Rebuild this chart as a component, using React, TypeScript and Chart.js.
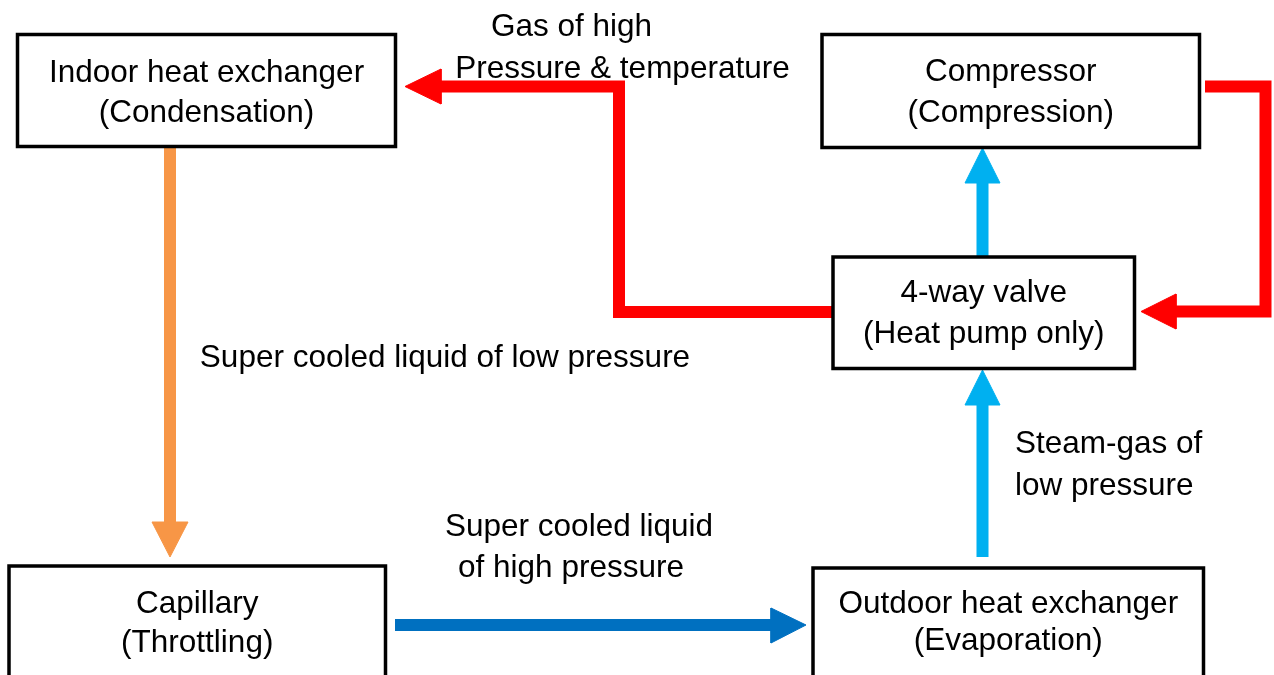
import React, { useEffect, useRef } from "react";
import { Chart, registerables } from "chart.js";

Chart.register(...registerables);

// Diagram coordinate space (pixels of the reference)
const X_RANGE = [0, 1274];
const Y_RANGE = [0, 675];

// Boxes
const boxX0 = [17.5, 822, 833, 9, 813];
const boxX1 = [395.5, 1199.5, 1134.5, 385.5, 1203.5];
const boxY0 = [34.5, 34.5, 257, 566, 568];
const boxY1 = [146.5, 147.5, 368.5, 720, 720];
const boxLine1 = ["Indoor heat exchanger", "Compressor", "4-way valve", "Capillary", "Outdoor heat exchanger"];
const boxLine2 = ["(Condensation)", "(Compression)", "(Heat pump only)", "(Throttling)", "(Evaporation)"];
const boxBase1 = [82, 81, 302, 613, 613];
const boxBase2 = [122, 122, 343, 652, 650];

// Arrow shafts (polylines)
const shaftRedTopX = [832, 619, 619, 441];
const shaftRedTopY = [312, 312, 86.5, 86.5];
const shaftRedRightX = [1205, 1265.5, 1265.5, 1176];
const shaftRedRightY = [86.5, 86.5, 311.5, 311.5];
const shaftCyanUpperX = [982.5, 982.5];
const shaftCyanUpperY = [256, 183];
const shaftCyanLowerX = [982.5, 982.5];
const shaftCyanLowerY = [557, 405];
const shaftOrangeX = [170, 170];
const shaftOrangeY = [148, 522];
const shaftBlueX = [395, 771];
const shaftBlueY = [625, 625];

// Arrow heads (triangles)
const headRedTopX = [441, 441, 405];
const headRedTopY = [69, 104, 86.5];
const headRedRightX = [1176, 1176, 1141];
const headRedRightY = [294, 329, 311.5];
const headCyanUpperX = [965, 1000, 982.5];
const headCyanUpperY = [183, 183, 148];
const headCyanLowerX = [965, 1000, 982.5];
const headCyanLowerY = [405, 405, 370];
const headOrangeX = [152, 188, 170];
const headOrangeY = [522, 522, 557];
const headBlueX = [771, 771, 806];
const headBlueY = [608, 643, 625];

// Free labels
const labelText = [
  "Gas of high",
  "Pressure & temperature",
  "Super cooled liquid of low pressure",
  "Super cooled liquid",
  "of high pressure",
  "Steam-gas of",
  "low pressure",
];
const labelX = [571.5, 622.5, 445, 579, 571, 1015, 1015];
const labelY = [36, 78, 367, 536, 577, 453, 495];
const labelAlign = ["center", "center", "center", "center", "center", "left", "left"];

const RED = "#FF0000";
const ORANGE = "#F79646";
const CYAN = "#00B0F0";
const BLUE = "#0070C0";
const FONT = '31.5px "Liberation Sans", Arial, sans-serif';

function pts(xs: number[], ys: number[]) {
  return xs.map((x, i) => ({ x, y: ys[i] }));
}

function rectPts(i: number) {
  const x0 = boxX0[i], x1 = boxX1[i], y0 = boxY0[i], y1 = boxY1[i];
  const mx = (x0 + x1) / 2;
  return pts([mx, x1, x1, x0, x0, mx], [y0, y0, y1, y1, y0, y0]);
}

function triPts(xs: number[], ys: number[]) {
  return pts([...xs, xs[0]], [...ys, ys[0]]);
}

export default function App() {
  const ref = useRef<HTMLCanvasElement | null>(null);

  useEffect(() => {
    document.body.style.margin = "0";
    const canvas = ref.current;
    if (!canvas) return;

    const shaft = (data: any[], color: string) => ({
      data,
      borderColor: color,
      borderWidth: 12,
      borderJoinStyle: "miter",
      borderCapStyle: "butt",
      pointRadius: 0,
      fill: false,
      tension: 0,
    });
    const head = (data: any[], color: string) => ({
      data,
      borderColor: color,
      backgroundColor: color,
      borderWidth: 1,
      borderJoinStyle: "miter",
      pointRadius: 0,
      fill: "shape",
      tension: 0,
    });
    const box = (i: number) => ({
      data: rectPts(i),
      borderColor: "#000000",
      borderWidth: 3.5,
      borderJoinStyle: "miter",
      borderCapStyle: "butt",
      pointRadius: 0,
      fill: false,
      tension: 0,
    });

    const labelPlugin = {
      id: "diagramLabels",
      afterDatasetsDraw(chart: any) {
        const { ctx, scales } = chart;
        const sx = scales.x, sy = scales.y;
        ctx.save();
        ctx.fillStyle = "#000000";
        ctx.font = FONT;
        ctx.textBaseline = "alphabetic";
        ctx.textAlign = "center";
        for (let i = 0; i < boxLine1.length; i++) {
          const cx = sx.getPixelForValue((boxX0[i] + boxX1[i]) / 2);
          ctx.fillText(boxLine1[i], cx, sy.getPixelForValue(boxBase1[i]));
          ctx.fillText(boxLine2[i], cx, sy.getPixelForValue(boxBase2[i]));
        }
        for (let i = 0; i < labelText.length; i++) {
          ctx.textAlign = labelAlign[i];
          ctx.fillText(labelText[i], sx.getPixelForValue(labelX[i]), sy.getPixelForValue(labelY[i]));
        }
        ctx.restore();
      },
    };

    const chart = new Chart(canvas, {
      type: "line",
      data: {
        datasets: [
          box(0), box(1), box(2), box(3), box(4),
          shaft(pts(shaftRedTopX, shaftRedTopY), RED),
          shaft(pts(shaftRedRightX, shaftRedRightY), RED),
          shaft(pts(shaftCyanUpperX, shaftCyanUpperY), CYAN),
          shaft(pts(shaftCyanLowerX, shaftCyanLowerY), CYAN),
          shaft(pts(shaftOrangeX, shaftOrangeY), ORANGE),
          shaft(pts(shaftBlueX, shaftBlueY), BLUE),
          head(triPts(headRedTopX, headRedTopY), RED),
          head(triPts(headRedRightX, headRedRightY), RED),
          head(triPts(headCyanUpperX, headCyanUpperY), CYAN),
          head(triPts(headCyanLowerX, headCyanLowerY), CYAN),
          head(triPts(headOrangeX, headOrangeY), ORANGE),
          head(triPts(headBlueX, headBlueY), BLUE),
        ] as any,
      },
      options: {
        responsive: false,
        animation: false,
        events: [],
        layout: { padding: 0 },
        plugins: { legend: { display: false }, tooltip: { enabled: false } },
        scales: {
          x: { type: "linear", min: X_RANGE[0], max: X_RANGE[1], display: false },
          y: { type: "linear", min: Y_RANGE[0], max: Y_RANGE[1], reverse: true, display: false },
        },
      },
      plugins: [labelPlugin],
    } as any);

    return () => chart.destroy();
  }, []);

  return (
    <div style={{ width: 1274, height: 675, background: "#ffffff" }}>
      <canvas ref={ref} width={1274} height={675} style={{ display: "block" }} />
    </div>
  );
}
